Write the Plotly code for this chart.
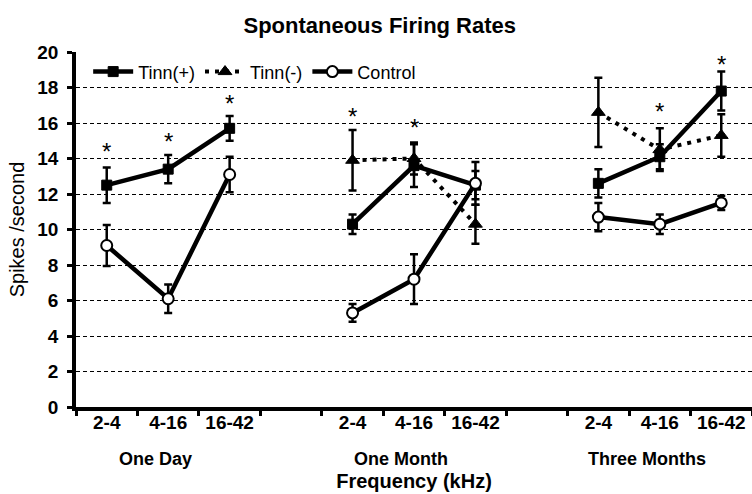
import plotly.graph_objects as go

groups = ["One Day", "One Month", "Three Months"]
freqs = ["2-4", "4-16", "16-42"]

tinn_pos = [12.5, 13.4, 15.7, 10.3, 13.6, 12.5, 12.6, 14.1, 17.8]
tinn_pos_err = [1.0, 0.8, 0.7, 0.55, 1.2, 0.8, 0.8, 0.7, 1.1]
tinn_neg = [None, None, None, 13.9, 14.0, 10.3, 16.6, 14.5, 15.3]
tinn_neg_err = [None, None, None, 1.7, 0.9, 1.1, 1.95, 1.2, 1.2]
control = [9.1, 6.1, 13.1, 5.3, 7.2, 12.6, 10.7, 10.3, 11.5]
control_err = [1.15, 0.8, 1.0, 0.5, 1.4, 1.2, 0.8, 0.55, 0.4]

# significance stars: (group, frequency, y)
star_group = ["One Day", "One Day", "One Day", "One Month", "One Month", "Three Months", "Three Months"]
star_freq = ["2-4", "4-16", "16-42", "2-4", "4-16", "4-16", "16-42"]
star_y = [14.6, 15.2, 17.35, 16.6, 16.0, 16.85, 19.5]

FONT = "Liberation Sans, Arial, sans-serif"


def xpos(g, f):
    return groups.index(g) * 4 + freqs.index(f) + 0.5


fig = go.Figure()

series = [
    ("Tinn(+)", tinn_pos, tinn_pos_err, dict(symbol="square", size=10, color="black",
                                            line=dict(color="black", width=1)), "solid"),
    ("Tinn(-)", tinn_neg, tinn_neg_err, dict(symbol="triangle-up", size=12, color="black",
                                            line=dict(color="black", width=1)), "4px,6px"),
    ("Control", control, control_err, dict(symbol="circle", size=11, color="white",
                                          line=dict(color="black", width=2)), "solid"),
]

for name, vals, errs, marker, dash in series:
    shown = False
    for gi, g in enumerate(groups):
        ys = vals[gi * 3:(gi + 1) * 3]
        es = errs[gi * 3:(gi + 1) * 3]
        if all(v is None for v in ys):
            continue
        xs = [xpos(g, f) for f in freqs]
        fig.add_trace(go.Scatter(
            x=xs, y=ys, name=name, mode="lines+markers",
            legendgroup=name, showlegend=not shown,
            line=dict(color="black", width=4.5 if dash == "solid" else 4, dash=dash),
            marker=marker,
            error_y=dict(type="data", array=es, visible=True, color="black",
                         thickness=2.5, width=4),
        ))
        shown = True

for g, f, y in zip(star_group, star_freq, star_y):
    fig.add_annotation(x=xpos(g, f), y=y, text="*", showarrow=False,
                       font=dict(family=FONT, size=24, color="black"),
                       yanchor="middle", yshift=-4)

for gi, g in enumerate(groups):
    fig.add_annotation(x=xpos(g, "4-16"), y=0, yref="paper", text=g, showarrow=False,
                       xshift=-13, yshift=-52, yanchor="middle",
                       font=dict(family=FONT, size=18, color="black", weight="bold"))

fig.update_layout(
    width=752, height=494,
    margin=dict(l=76, r=0, t=52, b=87),
    paper_bgcolor="white", plot_bgcolor="white",
    font=dict(family=FONT, color="black"),
    title=dict(text="Spontaneous Firing Rates", x=0.505, xanchor="center", y=0.949,
               yanchor="middle", font=dict(family=FONT, size=22, color="black", weight="bold")),
    showlegend=True,
    legend=dict(orientation="h", x=0.018, y=0.944, xanchor="left", yanchor="middle",
                bgcolor="rgba(0,0,0,0)", font=dict(family=FONT, size=18, color="black"),
                itemwidth=40, tracegroupgap=0),
    xaxis=dict(
        range=[0, 11.0],
        tickvals=[xpos(g, f) for g in groups for f in freqs],
        ticktext=[f for g in groups for f in freqs],
        ticks="", showgrid=False, zeroline=False,
        showline=True, linecolor="black", linewidth=3.5,
        tickfont=dict(family=FONT, size=19, color="black", weight="bold"),
        ticklabelstandoff=-5,
        minor=dict(tick0=0, dtick=1, ticks="outside", ticklen=5, tickwidth=3,
                   tickcolor="black", showgrid=False),
        title=dict(text="Frequency (kHz)", standoff=43,
                   font=dict(family=FONT, size=20, color="black", weight="bold")),
    ),
    yaxis=dict(
        range=[0, 20], dtick=2, tick0=0,
        ticks="outside", ticklen=5, tickwidth=2.5, tickcolor="black",
        showline=True, linecolor="black", linewidth=3.5,
        showgrid=True, gridcolor="black", gridwidth=1.3, griddash="4px,3px",
        zeroline=False,
        tickfont=dict(family=FONT, size=19, color="black", weight="bold"),
        ticklabelstandoff=5,
        title=dict(text="Spikes /second", standoff=8,
                   font=dict(family=FONT, size=20, color="black")),
    ),
)

fig.write_html("out.html", config={"displayModeBar": False},
               post_script="document.body.style.margin='0';document.body.style.padding='0';")
